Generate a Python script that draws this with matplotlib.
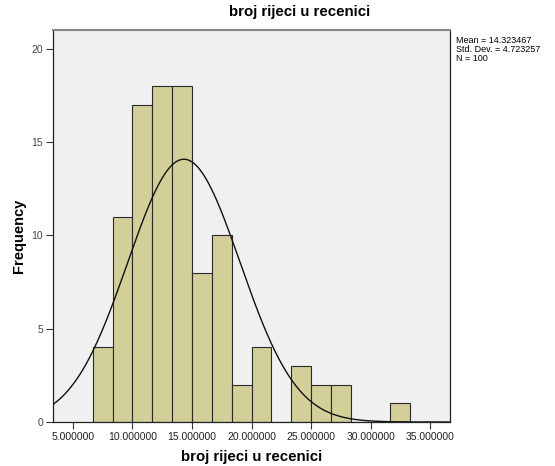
import numpy as np
import matplotlib
matplotlib.use("Agg")
import matplotlib.pyplot as plt

plt.rcParams['font.family'] = ['Liberation Sans', 'DejaVu Sans']

# histogram data (bin width 5/3)
bin_edges = [k * 5.0 / 3.0 for k in range(4, 21)]
counts = [4, 11, 17, 18, 18, 8, 10, 2, 4, 0, 3, 2, 2, 0, 0, 1]
mean = 14.323467
std_dev = 4.723257
n = 100
x_ticks = [5, 10, 15, 20, 25, 30, 35]
y_ticks = [0, 5, 10, 15, 20]

fig = plt.figure(figsize=(5.55, 4.66), dpi=100)
ax = fig.add_axes([53 / 555, 44 / 466, 397 / 555, 392 / 466])
ax.set_facecolor('#f0f0f0')

lefts = bin_edges[:-1]
widths = np.diff(bin_edges)
ax.bar(lefts, counts, width=widths, align='edge', color='#d3cf99',
       edgecolor='#2a2a2a', linewidth=0.8, zorder=2)

# normal curve scaled to counts
xs = np.linspace(10 / 3, 110 / 3, 400)
bw = 5.0 / 3.0
ys = n * bw / (std_dev * np.sqrt(2 * np.pi)) * np.exp(-0.5 * ((xs - mean) / std_dev) ** 2)
ax.plot(xs, ys, color='#111111', linewidth=1.0, zorder=3)

ax.set_xlim(10 / 3, 110 / 3)
ax.set_ylim(0, 21)
ax.set_xticks(x_ticks)
ax.set_xticklabels([f"{t:.6f}" for t in x_ticks], fontsize=7.5, color='#222222')
ax.set_yticks(y_ticks)
ax.set_yticklabels([str(t) for t in y_ticks], fontsize=7.5, color='#444444')
ax.tick_params(direction='out', length=5, width=0.8, color='#333333', pad=2)

for s in ['left', 'bottom', 'right']:
    ax.spines[s].set_color('#222222')
    ax.spines[s].set_linewidth(0.9)
ax.spines['top'].set_color('#888888')
ax.spines['top'].set_linewidth(1.5)

# axis labels placed where the reference has them
fig.text(252 / 555, 1 - 457 / 466, 'broj rijeci u recenici', fontsize=10.8,
         fontweight='bold', ha='center', va='center')
fig.text(19 / 555, 1 - 236 / 466, 'Frequency', fontsize=10.5,
         fontweight='bold', ha='center', va='center', rotation=90)

fig.text(300 / 555, 1 - 12 / 466, 'broj rijeci u recenici', fontsize=10.8,
         fontweight='bold', ha='center', va='center')

fig.text(456 / 555, 1 - 36 / 466,
         f"Mean = {mean:.6f}\nStd. Dev. = {std_dev:.6f}\nN = {n}",
         fontsize=6.5, ha='left', va='top', linespacing=1.0)

fig.savefig('out.png', dpi=100)
